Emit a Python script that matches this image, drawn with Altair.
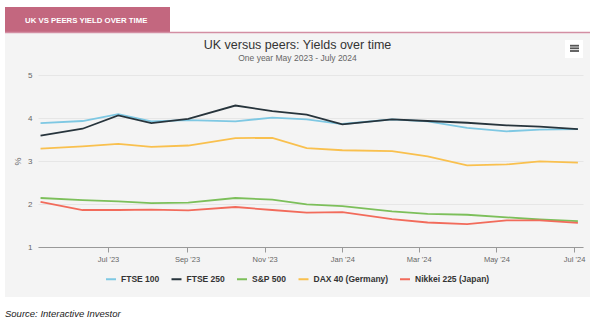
import altair as alt
import pandas as pd

# ---- data ----
dates = ["2023-05-09", "2023-06-11", "2023-07-09", "2023-08-04", "2023-09-02",
         "2023-10-09", "2023-11-07", "2023-12-04", "2024-01-01", "2024-02-09",
         "2024-03-08", "2024-04-08", "2024-05-09", "2024-06-04", "2024-07-04"]
series_names = ["FTSE 100", "FTSE 250", "S&P 500", "DAX 40 (Germany)", "Nikkei 225 (Japan)"]
ftse100 = [3.88, 3.93, 4.09, 3.92, 3.95, 3.92, 4.01, 3.97, 3.86, 3.97, 3.92, 3.77, 3.69, 3.73, 3.74]
ftse250 = [3.59, 3.75, 4.06, 3.88, 3.98, 4.29, 4.16, 4.08, 3.85, 3.97, 3.93, 3.89, 3.83, 3.80, 3.74]
sp500 = [2.14, 2.09, 2.06, 2.02, 2.03, 2.14, 2.10, 1.99, 1.95, 1.83, 1.77, 1.75, 1.69, 1.64, 1.60]
dax40 = [3.29, 3.34, 3.40, 3.33, 3.36, 3.53, 3.54, 3.30, 3.25, 3.23, 3.11, 2.90, 2.92, 2.99, 2.96]
nikkei = [2.05, 1.86, 1.86, 1.87, 1.85, 1.93, 1.86, 1.80, 1.81, 1.65, 1.57, 1.53, 1.62, 1.62, 1.56]
series_colors = ["#7ec8e3", "#27343c", "#7cbf5a", "#f9c04e", "#f26b5b"]
y_ticks = [1, 2, 3, 4, 5]
x_tick_dates = ["2023-07-01", "2023-09-01", "2023-11-01", "2024-01-01",
                "2024-03-01", "2024-05-01", "2024-07-01"]

rows = []
for name, vals in zip(series_names, [ftse100, ftse250, sp500, dax40, nikkei]):
    for d, v in zip(dates, vals):
        rows.append({"date": d, "series": name, "value": v})
df = pd.DataFrame(rows)

FONT = "Liberation Sans"
one = pd.DataFrame({"a": [0]})

def rect(x, x2, y, y2, color):
    return alt.Chart(one).mark_rect(color=color).encode(
        x=alt.value(x), x2=alt.value(x2), y=alt.value(y), y2=alt.value(y2))

def rule(x, x2, y, color, w):
    return alt.Chart(one).mark_rule(color=color, strokeWidth=w).encode(
        x=alt.value(x), x2=alt.value(x2), y=alt.value(y), y2=alt.value(y))

def text(t, x, y, size, color, align="left", baseline="alphabetic", weight="normal",
         style="normal", font=FONT):
    return alt.Chart(one).mark_text(text=t, fontSize=size, color=color, align=align,
                                    baseline=baseline, fontWeight=weight, fontStyle=style,
                                    font=font).encode(x=alt.value(x), y=alt.value(y))

# white surroundings of the grey panel (chart background is the panel grey)
white_top = rect(-38, 562, -75, -42, "white")
white_bottom = rect(-38, 562, 222, 254, "white")
white_left = rect(-38, -33, -75, 254, "white")
white_right = rect(552, 562, -75, 254, "white")
tab = rect(-33, 132, -68, -42.5, "#c3677f")
pink_line = rule(-33, 552, -42.5, "#d38ea3", 1.5)
tab_text = text("UK VS PEERS YIELD OVER TIME", -13, -54.5, 7.8, "white",
                baseline="middle", weight="bold")
title = text("UK versus peers: Yields over time", 259.5, -26, 12.5, "#333333", align="center")
subtitle = text("One year May 2023 - July 2024", 259.5, -14.5, 8.5, "#666666", align="center")
button = rect(527, 545, -35, -17, "white")
menu = [rule(532, 541, yy, "#555555", 1.8) for yy in (-29.3, -26.7, -24)]
source = text("Source: Interactive Investor", -33, 241.5, 9.5, "#222222", style="italic")

lines = alt.Chart(df).mark_line(strokeWidth=1.8).encode(
    x=alt.X("date:T",
            scale=alt.Scale(type="utc", domain=[alt.DateTime(year=2023, month=5, date=7, utc=True),
                                               alt.DateTime(year=2024, month=7, date=8, utc=True)]),
            axis=alt.Axis(title=None, grid=False,
                          values=[alt.DateTime(year=int(s[:4]), month=int(s[5:7]), date=1, utc=True)
                                  for s in x_tick_dates],
                          labelExpr="utcFormat(datum.value, \"%b '%y\")",
                          labelFontSize=7.5, labelColor="#666666", labelFont=FONT,
                          labelPadding=3, tickSize=5, tickColor="#999999",
                          domainColor="#999999", domainWidth=1)),
    y=alt.Y("value:Q", scale=alt.Scale(domain=[1, 5], nice=False, zero=False),
            axis=alt.Axis(title="%", values=y_ticks, grid=True, gridColor="#e6e6e6",
                          domain=False, ticks=False, labelFontSize=8, labelColor="#666666",
                          labelFont=FONT, labelPadding=6, titleFontSize=9,
                          titleColor="#666666", titleFont=FONT, titleFontWeight="normal",
                          titleX=-21, titleY=86, titleAngle=270, titleAlign="center",
                          titleBaseline="middle")),
    color=alt.Color("series:N",
                    scale=alt.Scale(domain=series_names, range=series_colors),
                    legend=alt.Legend(title=None, orient="none", legendX=67, legendY=198,
                                      direction="horizontal", symbolType="stroke",
                                      symbolStrokeWidth=2, symbolSize=100,
                                      labelFontSize=8.5, labelFontWeight="bold",
                                      labelColor="#333333", labelFont=FONT,
                                      labelOffset=4, columnPadding=7.5, padding=0)),
    order=alt.Order("date:T"),
)

chart = alt.layer(white_top, white_bottom, white_left, white_right, tab, pink_line,
                  tab_text, title, subtitle, button, *menu, lines, source).properties(
    width=545, height=172,
    padding={"left": 38, "top": 75, "right": 17, "bottom": 82},
    autosize=alt.AutoSizeParams(type="none"),
    background="#f4f4f4",
).configure_view(stroke=None)

chart.save("out.html", embed_options={"renderer": "svg", "actions": False})
